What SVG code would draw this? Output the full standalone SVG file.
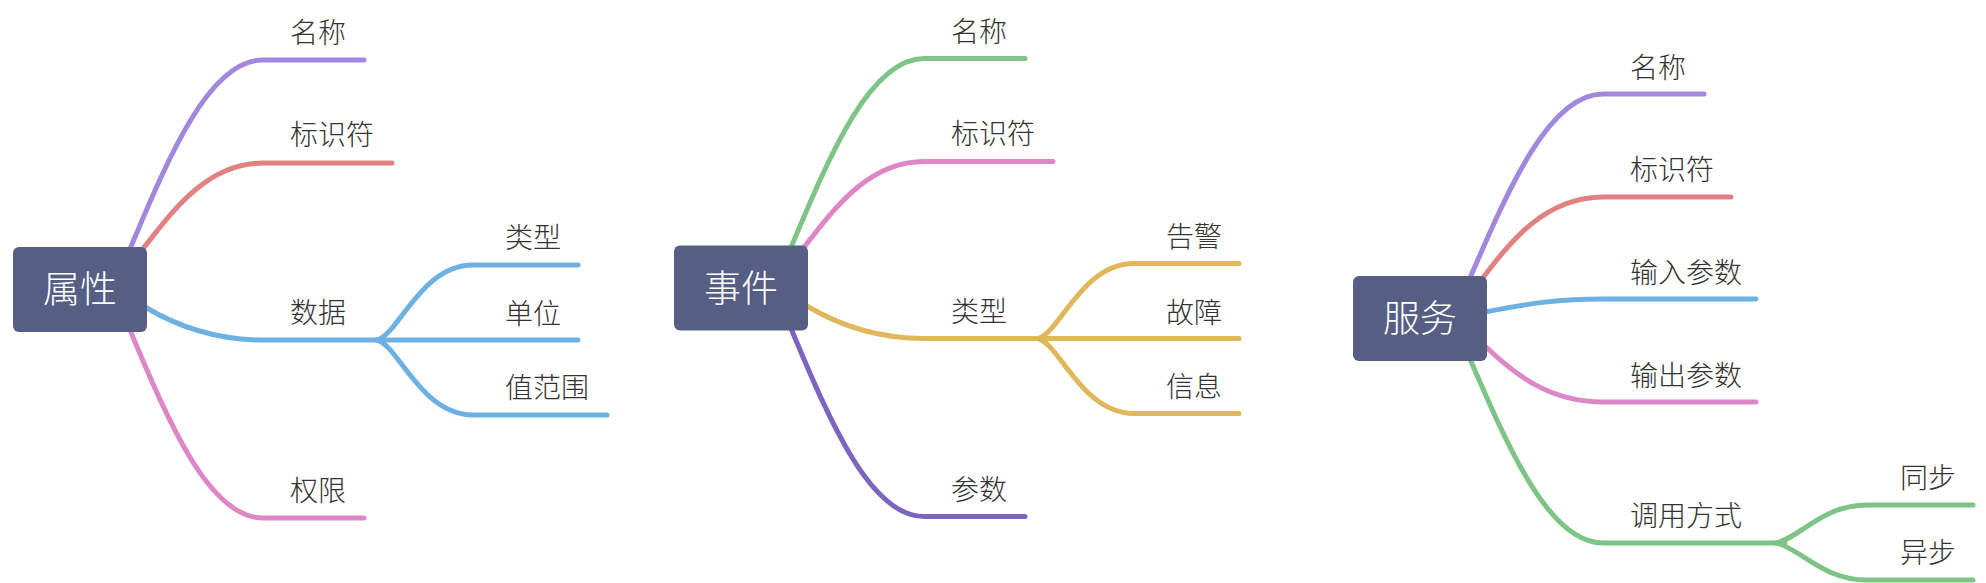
<svg xmlns="http://www.w3.org/2000/svg" width="1986" height="583" viewBox="0 0 1986 583">
<style>
.root rect{fill:#565e83}
.root text{fill:#ffffff;font-family:"Noto Sans CJK SC","Liberation Sans",sans-serif;font-size:37px;font-weight:300;text-anchor:middle}
.lbl{fill:#333333;font-family:"Noto Sans CJK SC","Liberation Sans",sans-serif;font-size:28px;font-weight:300}
.c path{fill:none;stroke-width:5;stroke-linecap:round;stroke-linejoin:round}
.purple{stroke:#a287dd}
.red{stroke:#e28181}
.blue{stroke:#6db1e3}
.pink{stroke:#dd86c8}
.green{stroke:#7dc486}
.yellow{stroke:#e1b75c}
.violet{stroke:#7c65c0}
</style>
<rect width="1986" height="583" fill="#ffffff"/>

<!-- Panel 1 -->
<g id="connectors-1" class="c">
<path class="purple" d="M130 249 C170 153 210 60 263 60 L364 60"/>
<path class="red" d="M142 250 C170 215 205 163 263 163 L392 163"/>
<path class="blue" d="M145 307 C180 328 220 340 263 340 L385 340"/>
<path class="pink" d="M130 330 C170 426 210 518 263 518 L364 518"/>
<path class="blue" d="M377 340 C399 334 421 265 473 265 L578 265"/>
<path class="blue" d="M377 340 L578 340"/>
<path class="blue" d="M377 340 C399 346 421 415 473 415 L607 415"/>
</g>
<g id="node-shuxing" class="root"><rect x="13" y="247" width="134" height="85" rx="6"/><text x="80" y="303">属性</text></g>
<g id="node-1-mingcheng"><text class="lbl" x="290" y="43">名称</text></g>
<g id="node-1-biaoshifu"><text class="lbl" x="290" y="145">标识符</text></g>
<g id="node-1-shuju"><text class="lbl" x="290" y="323">数据</text></g>
<g id="node-1-quanxian"><text class="lbl" x="290" y="501">权限</text></g>
<g id="node-1-leixing"><text class="lbl" x="505" y="248">类型</text></g>
<g id="node-1-danwei"><text class="lbl" x="505" y="324">单位</text></g>
<g id="node-1-zhifanwei"><text class="lbl" x="505" y="398">值范围</text></g>

<!-- Panel 2 -->
<g transform="translate(661,-1.5)">
<g id="connectors-2" class="c">
<path class="green" d="M130 249 C170 153 210 60 263 60 L364 60"/>
<path class="pink" d="M142 250 C170 215 205 163 263 163 L392 163"/>
<path class="yellow" d="M145 307 C180 328 220 340 263 340 L385 340"/>
<path class="violet" d="M130 330 C170 426 210 518 263 518 L364 518"/>
<path class="yellow" d="M377 340 C399 334 421 265 473 265 L578 265"/>
<path class="yellow" d="M377 340 L578 340"/>
<path class="yellow" d="M377 340 C399 346 421 415 473 415 L578 415"/>
</g>
<g id="node-shijian" class="root"><rect x="13" y="247" width="134" height="85" rx="6"/><text x="80" y="303">事件</text></g>
<g id="node-2-mingcheng"><text class="lbl" x="290" y="43">名称</text></g>
<g id="node-2-biaoshifu"><text class="lbl" x="290" y="145">标识符</text></g>
<g id="node-2-leixing"><text class="lbl" x="290" y="323">类型</text></g>
<g id="node-2-canshu"><text class="lbl" x="290" y="501">参数</text></g>
<g id="node-2-gaojing"><text class="lbl" x="505" y="248">告警</text></g>
<g id="node-2-guzhang"><text class="lbl" x="505" y="324">故障</text></g>
<g id="node-2-xinxi"><text class="lbl" x="505" y="398">信息</text></g>
</g>

<!-- Panel 3 -->
<g id="connectors-3" class="c">
<path class="purple" d="M1470 278 C1510 185 1550 94 1603 94 L1704 94"/>
<path class="red" d="M1482 279 C1510 242 1545 197 1603 197 L1731 197"/>
<path class="blue" d="M1485 312 C1530 303 1560 299 1603 299 L1756 299"/>
<path class="pink" d="M1485 346 C1515 375 1550 402 1603 402 L1756 402"/>
<path class="green" d="M1470 359 C1510 452 1550 543 1603 543 L1785 543"/>
<path class="green" d="M1776 543 C1800 538 1822 505 1867 505 L1973 505"/>
<path class="green" d="M1776 543 C1800 548 1822 580 1867 580 L1973 580"/>
</g>
<g id="node-fuwu" class="root"><rect x="1353" y="276" width="134" height="85" rx="6"/><text x="1420" y="332">服务</text></g>
<g id="node-3-mingcheng"><text class="lbl" x="1630" y="78">名称</text></g>
<g id="node-3-biaoshifu"><text class="lbl" x="1630" y="180">标识符</text></g>
<g id="node-3-shuru"><text class="lbl" x="1630" y="283">输入参数</text></g>
<g id="node-3-shuchu"><text class="lbl" x="1630" y="386">输出参数</text></g>
<g id="node-3-diaoyong"><text class="lbl" x="1630" y="526">调用方式</text></g>
<g id="node-3-tongbu"><text class="lbl" x="1900" y="488">同步</text></g>
<g id="node-3-yibu"><text class="lbl" x="1900" y="563">异步</text></g>
</svg>
